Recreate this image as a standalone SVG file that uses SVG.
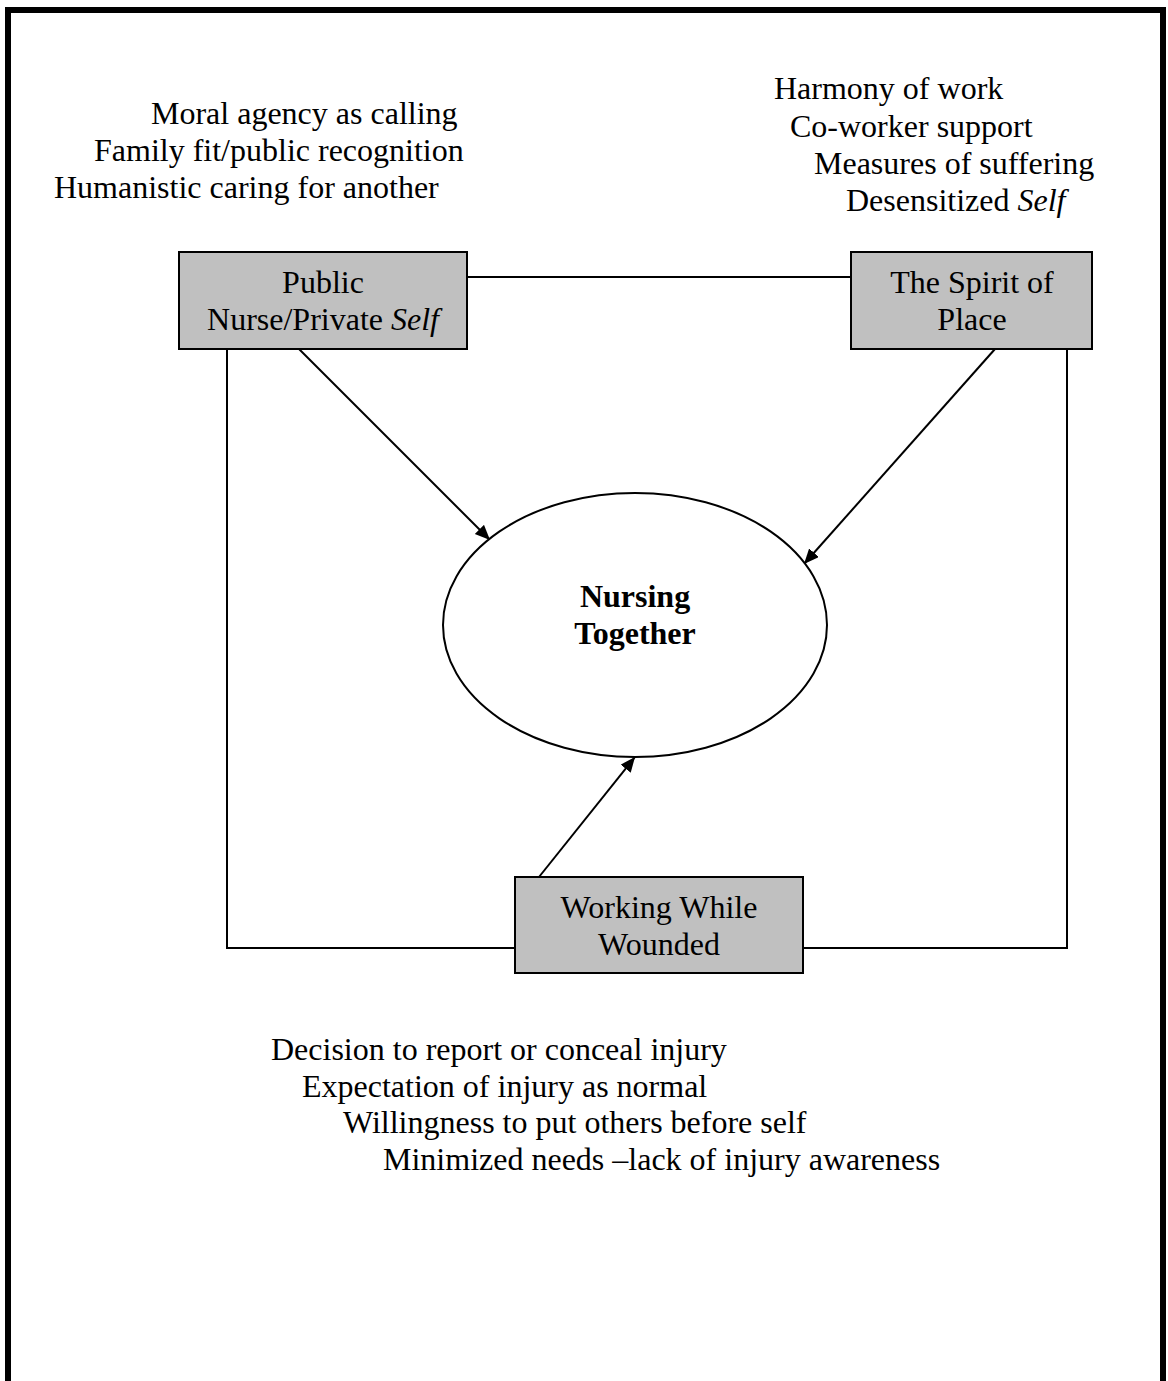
<svg xmlns="http://www.w3.org/2000/svg" width="1168" height="1381" viewBox="0 0 1168 1381">
<style>
  text { font-family: "Liberation Serif", "Times New Roman", serif; font-size: 32px; fill: #000; }
  .c { text-anchor: middle; }
  .b { font-weight: bold; }
  .i { font-style: italic; }
  .box { fill: #c0c0c0; stroke: #000; stroke-width: 2; }
  .ell { fill: #fff; stroke: #000; stroke-width: 2; }
  .ln { fill: none; stroke: #000; stroke-width: 2; }
</style>
<defs>
  <marker id="arr" markerUnits="userSpaceOnUse" markerWidth="18" markerHeight="14" refX="15" refY="6.5" orient="auto">
    <path d="M0,0 L15,6.5 L0,13 z" fill="#000"/>
  </marker>
</defs>
<rect x="0" y="0" width="1168" height="1381" fill="#fff"/>
<path d="M8,1395 V10 H1163 V1395" fill="none" stroke="#000" stroke-width="6"/>

<g id="labels-public">
  <text x="151" y="124">Moral agency as calling</text>
  <text x="94" y="161">Family fit/public recognition</text>
  <text x="54" y="198">Humanistic caring for another</text>
</g>
<g id="labels-spirit">
  <text x="774" y="99">Harmony of work</text>
  <text x="790" y="137">Co-worker support</text>
  <text x="814" y="174">Measures of suffering</text>
  <text x="846" y="211">Desensitized <tspan class="i">Self</tspan></text>
</g>
<g id="labels-wounded">
  <text x="271" y="1060">Decision to report or conceal injury</text>
  <text x="302" y="1097">Expectation of injury as normal</text>
  <text x="343" y="1133">Willingness to put others before self</text>
  <text x="383" y="1170">Minimized needs –lack of injury awareness</text>
</g>

<g id="connectors">
  <line class="ln" x1="467" y1="277" x2="851" y2="277"/>
  <polyline class="ln" points="227,349 227,948 515,948"/>
  <polyline class="ln" points="1067,349 1067,948 803,948"/>
  <line class="ln" x1="299" y1="349" x2="490" y2="540" marker-end="url(#arr)"/>
  <line class="ln" x1="995" y1="349" x2="804" y2="564" marker-end="url(#arr)"/>
  <line class="ln" x1="539" y1="877" x2="635" y2="757" marker-end="url(#arr)"/>
</g>

<g id="node-public">
  <rect class="box" x="179" y="252" width="288" height="97"/>
  <text class="c" x="323" y="293">Public</text>
  <text class="c" x="323" y="330">Nurse/Private <tspan class="i">Self</tspan></text>
</g>
<g id="node-spirit">
  <rect class="box" x="851" y="252" width="241" height="97"/>
  <text class="c" x="972" y="293">The Spirit of</text>
  <text class="c" x="972" y="330">Place</text>
</g>
<g id="node-nursing">
  <ellipse class="ell" cx="635" cy="625" rx="192" ry="132"/>
  <text class="c b" x="635" y="607">Nursing</text>
  <text class="c b" x="635" y="644">Together</text>
</g>
<g id="node-wounded">
  <rect class="box" x="515" y="877" width="288" height="96"/>
  <text class="c" x="659" y="918">Working While</text>
  <text class="c" x="659" y="955">Wounded</text>
</g>
</svg>
